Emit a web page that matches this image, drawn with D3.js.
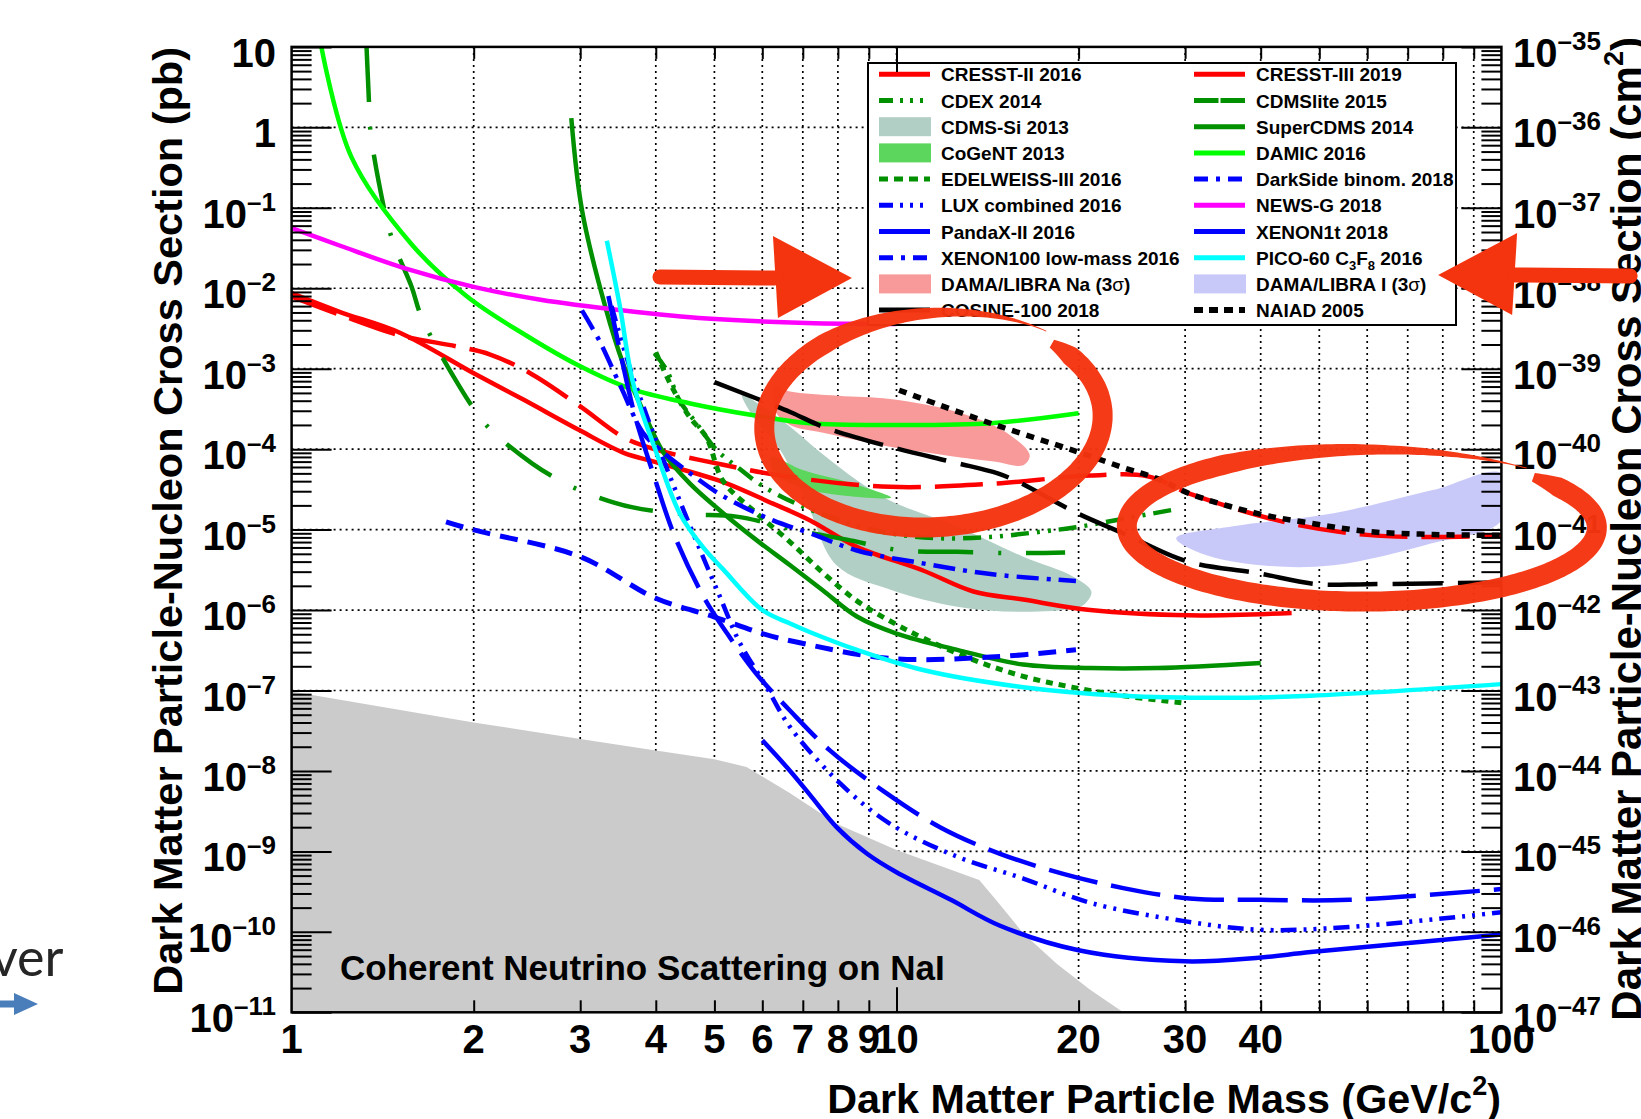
<!DOCTYPE html>
<html>
<head>
<meta charset="utf-8">
<script src="https://cdn.jsdelivr.net/npm/d3@7/dist/d3.min.js"></script>
<style>
html,body{margin:0;padding:0;background:#fff;}
svg{display:block;}
text{font-family:"Liberation Sans",Arial,Helvetica,sans-serif;}
</style>
</head>
<body>
<svg id="chart" width="1641" height="1119"></svg>
<script>
// ---------------- DATA (mass GeV/c^2, cross section pb) ----------------
const massTickLabels = [1,2,3,4,5,6,7,8,9,10,20,30,40,100];
const massGridLines = [2,3,4,5,6,7,8,9,10,20,30,40,50,60,70,80,90];
const pbExponents = [1,0,-1,-2,-3,-4,-5,-6,-7,-8,-9,-10,-11];
const cm2Exponents = [-35,-36,-37,-38,-39,-40,-41,-42,-43,-44,-45,-46,-47];
const minorMultipliers = [2,3,4,5,6,7,8,9];

const cresstII2016 = [[1,7.9e-3],[1.2,4.7e-3],[1.51,2.6e-3],[1.87,1.9e-3],[2.13,1.5e-3],[2.48,8.8e-4],[3.0,3.4e-4],[3.54,1.4e-4],[4.0,9.9e-5],[5.17,6.4e-5],[6.67,4.5e-5],[9.76,3.4e-5],[14.3,3.7e-5],[20.9,4.7e-5],[26,4.6e-5],[30.5,2.8e-5],[44.6,1.2e-5],[60,8.6e-6],[77,8.1e-6],[100,8.4e-6]];
const cresstIII2019 = [[1,8.7e-3],[1.2,5.1e-3],[1.51,2.8e-3],[2.0,8.8e-4],[2.42,4.1e-4],[3.0,1.7e-4],[3.54,9e-5],[4.0,6.9e-5],[5.17,3.9e-5],[6.25,2.1e-5],[7.2,1.3e-5],[8.6,6.1e-6],[11.06,3.1e-6],[13.4,1.7e-6],[16.2,1.35e-6],[20.9,1.0e-6],[30.5,8.6e-7],[45,9.2e-7]];
const cdex2014 = [[3.98,1.55e-3],[4.17,9.6e-4],[4.38,4e-4],[4.67,2.1e-4],[5.04,9.8e-5],[5.44,6.1e-5],[6.0,3.5e-5],[6.83,2.1e-5],[8.07,1.3e-5],[9.76,9.0e-6],[11.8,7.8e-6],[14.3,8.1e-6],[17.3,9.4e-6],[19.8,1.07e-5],[22.9,1.3e-5],[29.1,1.8e-5]];
const edelweiss2016 = [[4.0,1.6e-3],[4.25,6e-4],[4.55,2.5e-4],[4.85,1.4e-4],[5.17,4e-5],[5.87,1.6e-5],[6.67,7e-6],[7.56,2.9e-6],[8.6,1.3e-6],[9.76,7.3e-7],[11.06,4.5e-7],[13.4,2.4e-7],[16.2,1.5e-7],[19.5,1.1e-7],[23.7,8.6e-8],[29.8,7.0e-8]];
const cdmslite2015 = [[1.33,10],[1.342,2.2],[1.348,1.0],[1.395,0.2],[1.464,0.042],[1.58,0.0103],[1.63,4.9e-3],[1.71,2.3e-3],[1.89,6.2e-4],[2.0,3.2e-4],[2.14,1.7e-4],[2.5,6.6e-5],[2.74,4.3e-5],[3.02,3.0e-5],[3.65,1.9e-5],[4.52,1.55e-5],[5.44,1.45e-5],[6.85,9.8e-6],[8.28,7.5e-6],[10.2,5.5e-6],[12.6,5.3e-6],[15.6,5.1e-6],[19,5.2e-6]];
const superCDMS2014 = [[2.9,1.3],[3.02,0.094],[3.3,5.9e-3],[3.54,1.1e-3],[3.81,3.0e-4],[4.12,9e-5],[4.56,3.7e-5],[5.17,1.6e-5],[5.87,7.4e-6],[6.67,3.6e-6],[7.56,1.75e-6],[8.6,8.3e-7],[10,5.1e-7],[12.6,3.2e-7],[16.2,2.1e-7],[20.9,1.9e-7],[27,1.9e-7],[40,2.2e-7]];
const damic2016 = [[1.12,10],[1.257,0.42],[1.58,0.035],[1.95,7.9e-3],[2.42,2.7e-3],[3.0,1.07e-3],[3.62,5.7e-4],[4.56,3.7e-4],[5.87,2.6e-4],[7.2,2.1e-4],[9.7,2.0e-4],[14.3,2.1e-4],[20,2.8e-4]];
const newsG2018 = [[1,5.6e-2],[1.2,3.4e-2],[1.55,1.74e-2],[2.0,1.04e-2],[2.58,7.2e-3],[3.54,5.3e-3],[4.86,4.2e-3],[7.1,3.7e-3],[10,3.6e-3]];
const darkSide2018 = [[1.8,1.25e-5],[2.0,9.9e-6],[3.0,4.6e-6],[4.0,1.4e-6],[4.98,8.3e-7],[6.0,5.1e-7],[6.83,4.0e-7],[9.76,2.5e-7],[14.3,2.6e-7],[19.8,3.2e-7]];
const xenon100LM2016 = [[3.02,5.3e-3],[3.23,2.2e-3],[3.5,6e-4],[3.81,1.6e-4],[4.06,9.9e-5],[4.56,5e-5],[5.17,2.6e-5],[6.25,1.3e-5],[7.2,9e-6],[8.6,5.5e-6],[11.06,3.8e-6],[14.3,2.8e-6],[19.8,2.3e-6]];
const pandaxII2016 = [[3.34,8e-3],[3.5,1.5e-3],[3.7,2.5e-4],[3.96,5e-5],[4.28,9e-6],[4.79,1.5e-6],[5.25,5.1e-7],[5.87,1.6e-7],[6.67,5.6e-8],[7.76,1.8e-8],[9.49,5.7e-9],[11.8,2.0e-9],[14.8,9.4e-10],[18.8,5.3e-10],[23.7,3.5e-10],[30.5,2.6e-10],[40,2.5e-10],[56,2.5e-10],[100,3.4e-10]];
const luxCombined2016 = [[3.38,6e-3],[3.6,1.2e-3],[4.0,1.3e-4],[4.5,1.4e-5],[5.1,1.5e-6],[5.5,4e-7],[6.1,1.1e-7],[6.67,3.5e-8],[8.07,7e-9],[9.76,2.2e-9],[12.6,8.6e-10],[16.2,4.6e-10],[20.9,2.3e-10],[30.1,1.35e-10],[39.9,1.06e-10],[56,1.15e-10],[100,1.75e-10]];
const xenon1t2018 = [[6.0,2.4e-8],[6.67,1.0e-8],[7.2,5e-9],[7.96,2.0e-9],[8.93,9.4e-10],[10,5.5e-10],[12.3,2.5e-10],[14.8,1.2e-10],[20,5.9e-11],[30,4.3e-11],[40,4.8e-11],[48.4,5.6e-11],[100,9.3e-11]];
const pico60_2016 = [[3.32,0.039],[3.49,5.9e-3],[3.67,6.6e-4],[4.01,9e-5],[4.38,1.6e-5],[4.79,6e-6],[5.17,3.2e-6],[6.0,1.0e-6],[6.67,6.8e-7],[7.2,5.3e-7],[8.6,3.2e-7],[11.06,1.8e-7],[16.2,1.1e-7],[23.7,8.6e-8],[34.7,8.1e-8],[48.4,8.6e-8],[100,1.2e-7]];
const naiad2005 = [[10.1,5.4e-4],[14.3,2.1e-4],[19.9,9.3e-5],[23.7,5.9e-5],[27,4.3e-5],[30.5,2.8e-5],[39.3,1.6e-5],[48.4,1.2e-5],[60,9.5e-6],[77,8.7e-6],[100,8.5e-6]];
const cosine100_2018 = [[5.0,6.8e-4],[6.67,2.9e-4],[7.56,1.9e-4],[9.76,1.07e-4],[12.5,6.8e-5],[14.7,5.0e-5],[15.8,4.0e-5],[19.9,1.6e-5],[23.7,9e-6],[30.3,4.0e-6],[39.3,2.9e-6],[49.6,2.1e-6],[60,2.1e-6],[100,2.2e-6]];

const cdmsSi2013Region = [[5.55,4.8e-4],[6.0,3.4e-4],[6.67,1.9e-4],[7.5,9e-5],[8.6,4.1e-5],[9.75,2.3e-5],[12.6,1.09e-5],[16.2,4.6e-6],[19.6,2.6e-6],[21,1.7e-6],[20.5,1.2e-6],[19.6,1.05e-6],[16.2,9.5e-7],[12.6,1.1e-6],[9.75,1.8e-6],[7.96,3.6e-6],[7.1,2.2e-5],[6.42,9.8e-5],[5.8,2.5e-4]];
const cogent2013Region = [[6.2,8e-5],[7.0,5.5e-5],[8.4,3.8e-5],[9.8,2.5e-5],[8.4,2.6e-5],[7.0,3.3e-5],[6.3,5e-5]];
const damaNaRegion = [[6.3,6e-4],[6.67,5.2e-4],[8.0,4.6e-4],[9.76,4.2e-4],[12.6,2.9e-4],[15.0,1.7e-4],[16.6,8.5e-5],[16.2,6.3e-5],[14.5,7e-5],[12.6,8e-5],[9.76,1.07e-4],[7.56,1.6e-4],[6.67,2.0e-4],[6.3,3e-4]];
const damaIRegion = [[29,7.8e-6],[36,1.1e-5],[52.8,1.6e-5],[77,3.1e-5],[100,5e-5],[100,1.3e-5],[77,6.8e-6],[52.8,3.6e-6],[40,3.6e-6],[32,5e-6]];
const neutrinoFloor = [[1,9.7e-8],[2,4e-8],[3,2.5e-8],[4,1.8e-8],[5,1.4e-8],[5.65,1.12e-8],[6.67,5.3e-9],[7.96,2.2e-9],[10,1.04e-9],[13.7,4.4e-10],[14.6,2.5e-10],[16.2,9.6e-11],[18.4,4.0e-11],[20.9,1.9e-11],[23.7,1e-11],[1,1e-11]];

const legendLeft = ["CRESST-II 2016","CDEX 2014","CDMS-Si 2013","CoGeNT 2013","EDELWEISS-III 2016","LUX combined 2016","PandaX-II 2016","XENON100 low-mass 2016","DAMA/LIBRA Na (3σ)","COSINE-100 2018"];
const legendRight = ["CRESST-III 2019","CDMSlite 2015","SuperCDMS 2014","DAMIC 2016","DarkSide binom. 2018","NEWS-G 2018","XENON1t 2018","PICO-60 C3F8 2016","DAMA/LIBRA I (3σ)","NAIAD 2005"];

// annotation anchors (data coords)
const annotEllipses = [{m:11.64,s:2.19e-4,rx:165,ry:102.5,rot:-4},{m:59.7,s:1.08e-5,rx:229,ry:72.8,rot:0}];
const annotArrows = [{m:8.44,s:0.0134,dir:1},{m:78.6,s:0.0146,dir:-1}];

// ---------------- STYLE TABLE ----------------
const RED="#ff0000", DG="#009000", BG="#00ff00", BLUE="#0000ff", MAG="#ff00ff", CY="#00ffff";
const curves = [
 {d:cresstII2016,c:RED,dash:"48,14",w:4.5},
 {d:cresstIII2019,c:RED,dash:null,w:4.5},
 {d:cdex2014,c:DG,dash:"18,8,3,8,3,8",w:4.5},
 {d:edelweiss2016,c:DG,dash:"7,6",w:5},
 {d:cdmslite2015,c:DG,dash:"55,25,3,25",w:4.5},
 {d:superCDMS2014,c:DG,dash:null,w:4.5},
 {d:damic2016,c:BG,dash:null,w:4.5},
 {d:newsG2018,c:MAG,dash:null,w:4.5},
 {d:darkSide2018,c:BLUE,dash:"18,10",w:5},
 {d:xenon100LM2016,c:BLUE,dash:"22,8,4,8",w:4.5},
 {d:pandaxII2016,c:BLUE,dash:"50,14",w:4.5},
 {d:luxCombined2016,c:BLUE,dash:"16,7,3,7,3,7,3,7",w:4.5},
 {d:xenon1t2018,c:BLUE,dash:null,w:4.5},
 {d:pico60_2016,c:CY,dash:null,w:4.5},
 {d:cosine100_2018,c:"#000",dash:"50,15",w:4.5},
 {d:naiad2005,c:"#000",dash:"8,7",w:5.5}
];
const regions = [
 {d:cdmsSi2013Region,c:"#b1cfc5"},
 {d:cogent2013Region,c:"#5cd65c"},
 {d:damaNaRegion,c:"#f99a9a"},
 {d:damaIRegion,c:"#c9c9f9"}
];
const legendStyleLeft = [
 {t:"line",c:RED,dash:null},{t:"line",c:DG,dash:"14,7,3,7,3,7,3,7"},{t:"fill",c:"#b1cfc5"},{t:"fill",c:"#5cd65c"},
 {t:"line",c:DG,dash:"9,6"},{t:"line",c:BLUE,dash:"14,7,3,7,3,7,3,7"},{t:"line",c:BLUE,dash:null},
 {t:"line",c:BLUE,dash:"14,8,4,8"},{t:"fill",c:"#f99a9a"},{t:"line",c:"#000",dash:null}
];
const legendStyleRight = [
 {t:"line",c:RED,dash:null},{t:"line",c:DG,dash:"24.5,2,100"},{t:"line",c:DG,dash:null},{t:"line",c:BG,dash:null},
 {t:"line",c:BLUE,dash:"14,8,4,8"},{t:"line",c:MAG,dash:null},{t:"line",c:BLUE,dash:null},
 {t:"line",c:CY,dash:null},{t:"fill",c:"#c9c9f9"},{t:"line",c:"#000",dash:"9,6",w:6}
];

// ---------------- SCALES ----------------
const L=291.6, R=1501.4, T=46.9, B=1012.3;
const x = d3.scaleLog().domain([1,100]).range([L,R]);
const y = d3.scaleLog().domain([1e-11,10]).range([B,T]);

const svg = d3.select("#chart");
svg.append("rect").attr("width",1641).attr("height",1119).attr("fill","#fff");
svg.append("defs").append("clipPath").attr("id","pc").append("rect")
  .attr("x",L).attr("y",T).attr("width",R-L).attr("height",B-T);

// grid
const grid = svg.append("g").attr("stroke","#000").attr("stroke-width",1.7).attr("stroke-dasharray","2,4");
massGridLines.forEach(m=>grid.append("line").attr("x1",x(m)).attr("x2",x(m)).attr("y1",T).attr("y2",B));
pbExponents.slice(1,-1).forEach(e=>grid.append("line").attr("x1",L).attr("x2",R).attr("y1",y(Math.pow(10,e))).attr("y2",y(Math.pow(10,e))));

const plot = svg.append("g").attr("clip-path","url(#pc)");
const lin = d3.line().x(d=>x(d[0])).y(d=>y(d[1]));
plot.append("path").attr("d",lin.curve(d3.curveLinear)(neutrinoFloor)+"Z").attr("fill","#cbcbcb");
plot.append("text").attr("x",340).attr("y",980).attr("font-size",35).attr("font-weight","bold").attr("fill","#000")
  .text("Coherent Neutrino Scattering on NaI");
const closed = d3.line().x(d=>x(d[0])).y(d=>y(d[1])).curve(d3.curveCatmullRomClosed.alpha(0.5));
regions.forEach(r=>plot.append("path").attr("d",closed(r.d)).attr("fill",r.c));
const cl = d3.line().x(d=>x(d[0])).y(d=>y(d[1])).curve(d3.curveCatmullRom.alpha(0.5));
curves.forEach(s=>{
  const p=plot.append("path").attr("d",cl(s.d)).attr("fill","none").attr("stroke",s.c).attr("stroke-width",s.w)
    .attr("stroke-linejoin","round");
  if(s.dash) p.attr("stroke-dasharray",s.dash);
});

// legend
const lg = svg.append("g");
lg.append("rect").attr("x",868).attr("y",63).attr("width",588).attr("height",262).attr("fill","#fff").attr("stroke","#000").attr("stroke-width",2);
function legendCol(names, styles, sx, tx){
  names.forEach((n,i)=>{
    const cy = 74.3 + i*26.2, st = styles[i];
    if(st.t==="fill"){
      lg.append("rect").attr("x",sx).attr("y",cy-9.5).attr("width",52).attr("height",19).attr("fill",st.c);
    } else {
      const l=lg.append("line").attr("x1",sx).attr("x2",sx+51).attr("y1",cy).attr("y2",cy).attr("stroke",st.c).attr("stroke-width",st.w||5);
      if(st.dash) l.attr("stroke-dasharray",st.dash);
    }
    const t = lg.append("text").attr("x",tx).attr("y",cy+7).attr("font-size",19).attr("font-weight","bold").attr("fill","#000");
    if(n.includes("σ")){
      const parts=n.split("σ");
      t.append("tspan").text(parts[0]);
      t.append("tspan").attr("font-weight","normal").text("σ");
      t.append("tspan").text(parts[1]);
    } else if(n.includes("C3F8")){
      const parts=n.split("C3F8");
      t.append("tspan").text(parts[0]+"C");
      t.append("tspan").attr("font-size",13).attr("dy",5).text("3");
      t.append("tspan").attr("dy",-5).text("F");
      t.append("tspan").attr("font-size",13).attr("dy",5).text("8");
      t.append("tspan").attr("dy",-5).text(parts[1]);
    } else t.text(n);
  });
}
legendCol(legendLeft, legendStyleLeft, 879, 941);
legendCol(legendRight, legendStyleRight, 1194, 1256);

// axes ticks
const decades = pbExponents.map(e=>Math.pow(10,e));
const minors = [];
pbExponents.slice(1).forEach(e=>minorMultipliers.forEach(k=>minors.push(k*Math.pow(10,e))));
function styleAx(g){ g.select(".domain").remove(); g.selectAll("line").attr("stroke","#000").attr("stroke-width",2); g.selectAll("text").remove(); }
svg.append("g").attr("transform",`translate(${L},0)`).call(d3.axisRight(y).tickValues(decades).tickSize(40).tickFormat("")).call(styleAx);
svg.append("g").attr("transform",`translate(${L},0)`).call(d3.axisRight(y).tickValues(minors).tickSize(20).tickFormat("")).call(styleAx);
svg.append("g").attr("transform",`translate(${R},0)`).call(d3.axisLeft(y).tickValues(decades).tickSize(40).tickFormat("")).call(styleAx);
svg.append("g").attr("transform",`translate(${R},0)`).call(d3.axisLeft(y).tickValues(minors).tickSize(20).tickFormat("")).call(styleAx);
const xMinor = massGridLines.filter(m=>m!==10);
svg.append("g").attr("transform",`translate(0,${B})`).call(d3.axisTop(x).tickValues(xMinor).tickSize(12).tickFormat("")).call(styleAx);
svg.append("g").attr("transform",`translate(0,${B})`).call(d3.axisTop(x).tickValues([10]).tickSize(25).tickFormat("")).call(styleAx);
svg.append("g").attr("transform",`translate(0,${T})`).call(d3.axisBottom(x).tickValues(xMinor).tickSize(12).tickFormat("")).call(styleAx);
svg.append("g").attr("transform",`translate(0,${T})`).call(d3.axisBottom(x).tickValues([10]).tickSize(25).tickFormat("")).call(styleAx);
svg.append("rect").attr("x",L).attr("y",T).attr("width",R-L).attr("height",B-T).attr("fill","none").attr("stroke","#000").attr("stroke-width",2.5);

// tick labels
const LBL=40, SUP=26;
function powLabel(t, e){
  if(e===0){t.text("1");return;}
  if(e===1){t.text("10");return;}
  t.append("tspan").text("10");
  t.append("tspan").attr("font-size",SUP).attr("dy",-17).text("–"+Math.abs(e));
}
pbExponents.forEach(e=>{
  const t=svg.append("text").attr("x",276).attr("y",y(Math.pow(10,e))+20).attr("text-anchor","end")
    .attr("font-size",LBL).attr("font-weight","bold");
  powLabel(t,e);
});
cm2Exponents.forEach((e,i)=>{
  const t=svg.append("text").attr("x",1513).attr("y",y(decades[i])+20).attr("text-anchor","start")
    .attr("font-size",LBL).attr("font-weight","bold");
  powLabel(t,e);
});
massTickLabels.forEach(m=>{
  svg.append("text").attr("x",x(m)).attr("y",1053).attr("text-anchor","middle").attr("font-size",LBL).attr("font-weight","bold").text(m);
});

// titles
svg.append("text").attr("transform","translate(182,47) rotate(-90)").attr("text-anchor","end").attr("font-size",41.5).attr("font-weight","bold")
  .text("Dark Matter Particle-Nucleon Cross Section (pb)");
const rt = svg.append("text").attr("transform","translate(1641,37) rotate(-90)").attr("text-anchor","end").attr("font-size",42).attr("font-weight","bold");
rt.append("tspan").text("Dark Matter Particle-Nucleon Cross Section (cm");
rt.append("tspan").attr("font-size",27).attr("dy",-18).text("2");
rt.append("tspan").attr("dy",18).text(")");
const xt = svg.append("text").attr("x",1501).attr("y",1113).attr("text-anchor","end").attr("font-size",41.3).attr("font-weight","bold");
xt.append("tspan").text("Dark Matter Particle Mass (GeV/c");
xt.append("tspan").attr("font-size",27).attr("dy",-18).text("2");
xt.append("tspan").attr("dy",18).text(")");

// slide residue at left
svg.append("text").attr("x",-9).attr("y",976).attr("text-anchor","start").attr("font-size",52).attr("fill","#262626")
  .style("font-family","Lato,'Open Sans',sans-serif").text("ver");
svg.append("path").attr("d","M0,1000.5 L14,1000.5 L14,993 L38,1004 L14,1015 L14,1007.5 L0,1007.5 Z").attr("fill","#4a7ebb");

// hand-drawn annotations
const AC="#f4340f";
function handEllipse(cx,cy,rx,ry,rotDeg,W){
  const th0=-43*Math.PI/180, th1=th0+354*Math.PI/180, grow=0.07, N=260;
  const r=rotDeg*Math.PI/180, cr=Math.cos(r), sr=Math.sin(r);
  const outer=[], inner=[];
  for(let i=0;i<=N;i++){
    const t=i/N, th=th0+(th1-th0)*t, s=1+grow*t;
    const px=rx*s*Math.cos(th), py=ry*s*Math.sin(th);
    let nx=ry*Math.cos(th), ny=rx*Math.sin(th); const nl=Math.hypot(nx,ny); nx/=nl; ny/=nl;
    const w=W*Math.min(1,0.45+t/0.05)*Math.max(0.05,Math.min(1,(1-t)/0.22));
    const ox=px+nx*w/2, oy=py+ny*w/2, ix=px-nx*w/2, iy=py-ny*w/2;
    outer.push([cx+ox*cr-oy*sr, cy+ox*sr+oy*cr]);
    inner.push([cx+ix*cr-iy*sr, cy+ix*sr+iy*cr]);
  }
  const f=p=>p[0].toFixed(1)+","+p[1].toFixed(1);
  return "M"+outer.map(f).join("L")+"L"+inner.reverse().map(f).join("L")+"Z";
}
const ann = svg.append("g").attr("fill",AC);
annotEllipses.forEach(e=>ann.append("path").attr("d",handEllipse(x(e.m),y(e.s),e.rx,e.ry,e.rot,20)).attr("opacity",0.97));
annotArrows.forEach(a=>{
  const tx=x(a.m), ty=y(a.s), d=a.dir;
  const bx=tx-d*77;
  ann.append("path").attr("d",`M${tx},${ty} L${bx-d*2},${ty-42} L${bx+d*3},${ty+40} Z`);
  ann.append("line").attr("x1",bx).attr("x2",tx-d*192).attr("y1",ty).attr("y2",ty-d*1)
    .attr("stroke",AC).attr("stroke-width",15).attr("stroke-linecap","round");
});
</script>
</body>
</html>
